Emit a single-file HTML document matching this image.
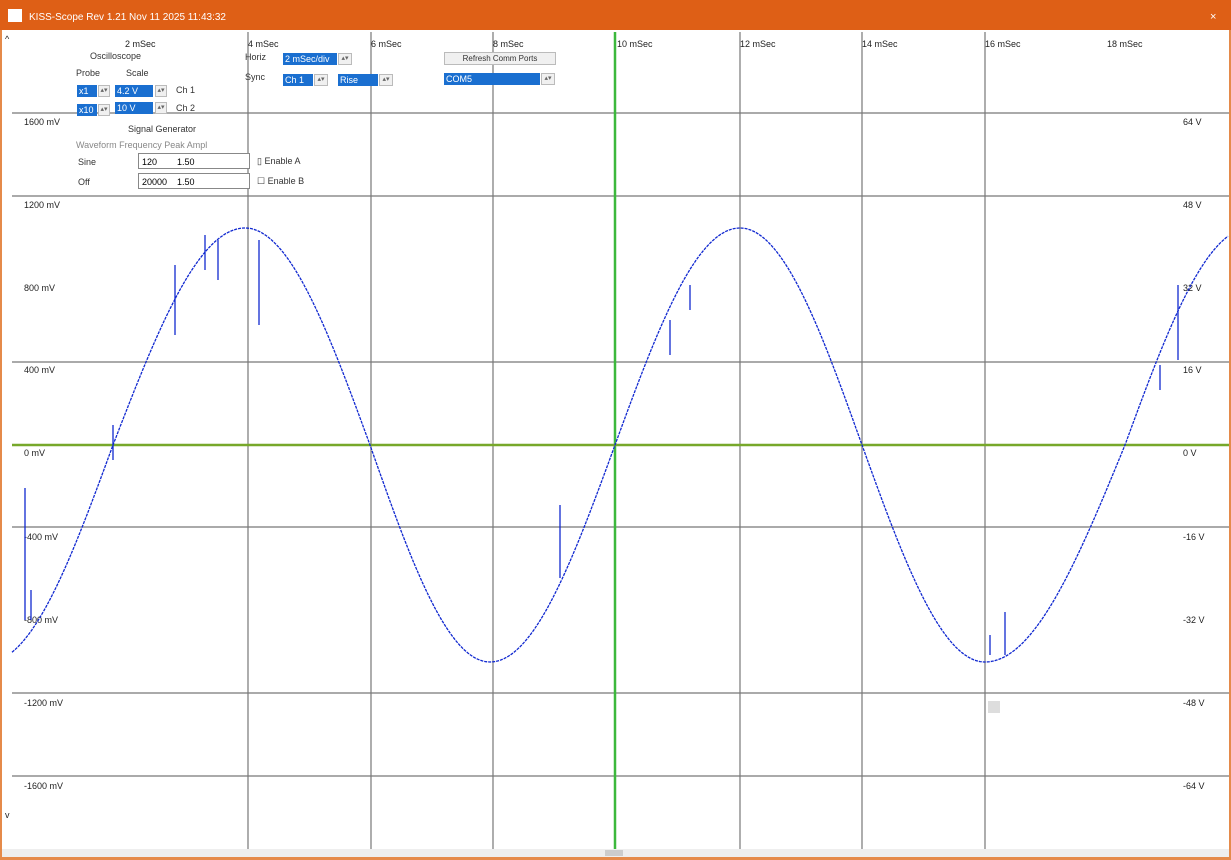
<!DOCTYPE html>
<html><head><meta charset="utf-8"><style>
html,body{margin:0;padding:0;width:1231px;height:860px;overflow:hidden;background:#fff;font-family:"Liberation Sans",sans-serif}
svg{position:absolute;left:0;top:0}
.t{font-size:9px;fill:#222}
.c{position:absolute;font-size:9px;color:#333;white-space:nowrap}
.sel{position:absolute;background:#1a6fd0;color:#fff;font-size:9px;height:12px;line-height:12px;padding-left:2px;box-sizing:border-box}
.sp{position:absolute;border:1px solid #bbb;background:#f0f0f0;height:12px;box-sizing:border-box;font-size:7px;text-align:center;color:#666}
.box{position:absolute;border:1px solid #888;background:#fff;font-size:9px;height:16px;line-height:16px;padding-left:3px;box-sizing:border-box}
</style></head><body>
<svg width="1231" height="860" id="s">
<rect x="0" y="0" width="1231" height="30" fill="#de5f16"/>
<rect x="8" y="9" width="14" height="13" fill="#fff"/>
<text x="29" y="20" font-size="10" fill="#fff" style="font-family:'Liberation Sans',sans-serif">KISS-Scope Rev 1.21 Nov 11 2025 11:43:32</text>
<text x="1210" y="20" font-size="11" fill="#fff">×</text>
<rect x="0" y="30" width="2" height="830" fill="#e58a4a"/>
<rect x="1229" y="30" width="2" height="830" fill="#e58a4a"/>
<rect x="0" y="857" width="1231" height="3" fill="#e58a4a"/>
<rect x="2" y="849" width="1227" height="8" fill="#eee"/>
<rect x="605" y="850" width="18" height="6" fill="#ccc"/>
<g stroke="#777" stroke-width="1.2">
<line x1="248" y1="32" x2="248" y2="849"/><line x1="371" y1="32" x2="371" y2="849"/>
<line x1="493" y1="32" x2="493" y2="849"/><line x1="740" y1="32" x2="740" y2="849"/>
<line x1="862" y1="32" x2="862" y2="849"/><line x1="985" y1="32" x2="985" y2="849"/>
<line x1="12" y1="113" x2="1229" y2="113"/><line x1="12" y1="196" x2="1229" y2="196"/>
<line x1="12" y1="362" x2="1229" y2="362"/><line x1="12" y1="527" x2="1229" y2="527"/>
<line x1="12" y1="693" x2="1229" y2="693"/><line x1="12" y1="776" x2="1229" y2="776"/>
</g>
<line x1="615" y1="32" x2="615" y2="849" stroke="#3cb83c" stroke-width="2.5"/>
<line x1="12" y1="445" x2="1229" y2="445" stroke="#77a82a" stroke-width="2.5"/>
<g class="t">
<text x="125" y="47">2 mSec</text><text x="248" y="47">4 mSec</text><text x="371" y="47">6 mSec</text>
<text x="493" y="47">8 mSec</text><text x="617" y="47">10 mSec</text><text x="740" y="47">12 mSec</text>
<text x="862" y="47">14 mSec</text><text x="985" y="47">16 mSec</text><text x="1107" y="47">18 mSec</text>
<text x="24" y="125">1600 mV</text><text x="24" y="208">1200 mV</text><text x="24" y="291">800 mV</text>
<text x="24" y="373">400 mV</text><text x="24" y="456">0 mV</text><text x="24" y="540">-400 mV</text>
<text x="24" y="623">-800 mV</text><text x="24" y="706">-1200 mV</text><text x="24" y="789">-1600 mV</text>
<text x="1183" y="125">64 V</text><text x="1183" y="208">48 V</text><text x="1183" y="291">32 V</text>
<text x="1183" y="373">16 V</text><text x="1183" y="456">0 V</text><text x="1183" y="540">-16 V</text>
<text x="1183" y="623">-32 V</text><text x="1183" y="706">-48 V</text><text x="1183" y="789">-64 V</text>
<text x="5" y="42">^</text><text x="5" y="818">v</text>
</g>
<rect x="988" y="701" width="12" height="12" fill="#ddd"/>
<g id="w" stroke="#1028d0" fill="none" stroke-width="1.3"></g>
</svg>
<div class="c" style="left:90px;top:51px">Oscilloscope</div>
<div class="c" style="left:76px;top:68px">Probe</div><div class="c" style="left:126px;top:68px">Scale</div>
<div class="sel" style="left:77px;top:85px;width:20px">x1</div><div class="sp" style="left:98px;top:85px;width:12px">▴▾</div>
<div class="sel" style="left:115px;top:85px;width:38px">4.2 V</div><div class="sp" style="left:155px;top:85px;width:12px">▴▾</div>
<div class="c" style="left:176px;top:85px">Ch 1</div>
<div class="sel" style="left:77px;top:104px;width:20px">x10</div><div class="sp" style="left:98px;top:104px;width:12px">▴▾</div>
<div class="sel" style="left:115px;top:102px;width:38px">10 V</div><div class="sp" style="left:155px;top:102px;width:12px">▴▾</div>
<div class="c" style="left:176px;top:103px">Ch 2</div>
<div class="c" style="left:128px;top:124px">Signal Generator</div>
<div class="c" style="left:76px;top:140px;color:#888">Waveform Frequency Peak Ampl</div>
<div class="c" style="left:78px;top:157px">Sine</div><div class="c" style="left:78px;top:177px">Off</div>
<div class="box" style="left:138px;top:153px;width:112px">120 &nbsp;&nbsp;&nbsp;&nbsp;&nbsp;&nbsp; 1.50</div>
<div class="box" style="left:138px;top:173px;width:112px">20000 &nbsp;&nbsp; 1.50</div>
<div class="c" style="left:257px;top:156px">▯ Enable A</div><div class="c" style="left:257px;top:176px">☐ Enable B</div>
<div class="c" style="left:245px;top:52px">Horiz</div><div class="c" style="left:245px;top:72px">Sync</div>
<div class="sel" style="left:283px;top:53px;width:54px">2 mSec/div</div><div class="sp" style="left:338px;top:53px;width:14px">▴▾</div>
<div class="sel" style="left:283px;top:74px;width:30px">Ch 1</div><div class="sp" style="left:314px;top:74px;width:14px">▴▾</div>
<div class="sel" style="left:338px;top:74px;width:40px">Rise</div><div class="sp" style="left:379px;top:74px;width:14px">▴▾</div>
<div class="sp" style="left:444px;top:52px;width:112px;height:13px;font-size:8px;color:#333;line-height:11px">Refresh Comm Ports</div>
<div class="sel" style="left:444px;top:73px;width:96px">COM5</div><div class="sp" style="left:541px;top:73px;width:14px">▴▾</div>
<script>
var k=[[-12,-1],[113,0],[245,1],[370,0],[490,-1],[615,0],[740,1],[862,0],[985,-1],[1125,0],[1250,1]];
function y(x){for(var i=0;i<k.length-1;i++){var a=k[i],b=k[i+1];if(x>=a[0]&&x<=b[0]){var t=(x-a[0])/(b[0]-a[0]);var v;if(a[1]==0)v=b[1]*Math.sin(t*Math.PI/2);else v=a[1]*Math.cos(t*Math.PI/2);return 445-217*v;}}return 445;}
var p="";for(var x=12;x<=1229;x+=2){p+=(x==12?"M":"L")+x+","+y(x).toFixed(1);}
var g=document.getElementById("w");var ns="http://www.w3.org/2000/svg";
var e=document.createElementNS(ns,"path");e.setAttribute("d",p);e.setAttribute("stroke-dasharray","3 1");g.appendChild(e);
var sp=[[25,488,620],[31,590,620],[113,425,460],[175,265,335],[205,235,270],[218,240,280],[259,240,325],[560,505,578],[670,320,355],[690,285,310],[1005,612,655],[990,635,655],[1178,285,360],[1160,365,390]];
sp.forEach(function(s){var l=document.createElementNS(ns,"line");l.setAttribute("x1",s[0]);l.setAttribute("x2",s[0]);l.setAttribute("y1",s[1]);l.setAttribute("y2",s[2]);g.appendChild(l);});
</script>
</body></html>
